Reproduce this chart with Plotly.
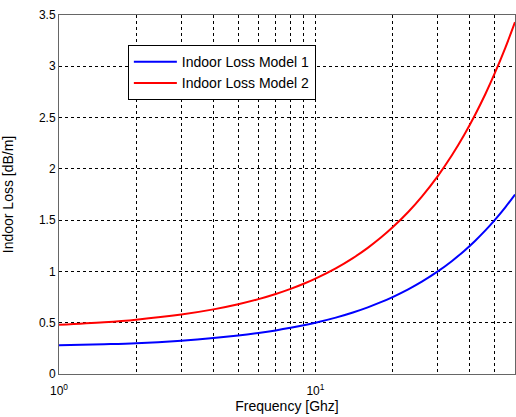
import plotly.graph_objects as go

freq_ghz = [1, 1.5, 2, 3, 4, 5, 6, 7, 8, 9, 10, 12, 14, 16, 18, 20, 23, 26, 30, 34, 38, 42, 46, 50, 55, 60]
loss_model1 = [0.28, 0.29, 0.30, 0.325, 0.35, 0.375, 0.40, 0.425, 0.45, 0.475, 0.50, 0.55, 0.60, 0.65, 0.70, 0.75, 0.825, 0.90, 1.00, 1.10, 1.20, 1.30, 1.40, 1.50, 1.625, 1.75]
loss_model2 = [0.48, 0.505, 0.53, 0.58, 0.63, 0.68, 0.73, 0.78, 0.83, 0.88, 0.93, 1.03, 1.13, 1.23, 1.33, 1.43, 1.58, 1.73, 1.93, 2.13, 2.33, 2.53, 2.73, 2.93, 3.18, 3.43]

x_major = [1, 10]
x_major_text = ["10<sup>0</sup>", "10<sup>1</sup>"]
x_minor = [2, 3, 4, 5, 6, 7, 8, 9, 20, 30, 40, 50]
y_ticks = [0, 0.5, 1, 1.5, 2, 2.5, 3, 3.5]
y_text = ["0", "0.5", "1", "1.5", "2", "2.5", "3", "3.5"]

fig = go.Figure()
fig.add_trace(go.Scatter(x=freq_ghz, y=loss_model1, mode="lines", name="Indoor Loss Model 1",
                         line=dict(color="#0000FF", width=2, shape="spline")))
fig.add_trace(go.Scatter(x=freq_ghz, y=loss_model2, mode="lines", name="Indoor Loss Model 2",
                         line=dict(color="#FF0000", width=2, shape="spline")))

fam = "Liberation Sans, Arial, sans-serif"
font = dict(family=fam, size=12, color="#000000")
tfont = dict(family=fam, size=14, color="#000000")
grid = dict(showgrid=True, gridcolor="#000000", gridwidth=1, griddash="3px,3px")

fig.update_layout(
    width=516, height=417,
    margin=dict(l=59, r=1, t=15, b=43, autoexpand=False),
    paper_bgcolor="white", plot_bgcolor="white",
    font=font,
    showlegend=True,
    legend=dict(x=0.151, y=0.916, xanchor="left", yanchor="top",
                bgcolor="white", bordercolor="#000000", borderwidth=1,
                font=tfont, itemwidth=43, tracegroupgap=0),
    xaxis=dict(type="log", range=[0, 1.7782], automargin=False,
               tickmode="array", tickvals=x_major, ticktext=x_major_text,
               tickfont=font, ticklabelstandoff=6, **grid,
               minor=dict(tickvals=x_minor, ticks="", **grid),
               showline=True, mirror=True, linecolor="#666666", linewidth=1,
               ticks="", zeroline=False,
               title=dict(text="Frequency [Ghz]", font=tfont, standoff=2)),
    yaxis=dict(range=[0, 3.5], automargin=False,
               tickmode="array", tickvals=y_ticks, ticktext=y_text,
               tickfont=font, **grid,
               showline=True, mirror=True, linecolor="#666666", linewidth=1,
               ticks="", zeroline=False,
               title=dict(text="Indoor Loss [dB/m]", font=tfont, standoff=23)),
)

fig.write_html("out.html", config={"displayModeBar": False},
               post_script="document.body.style.margin='0px';")
